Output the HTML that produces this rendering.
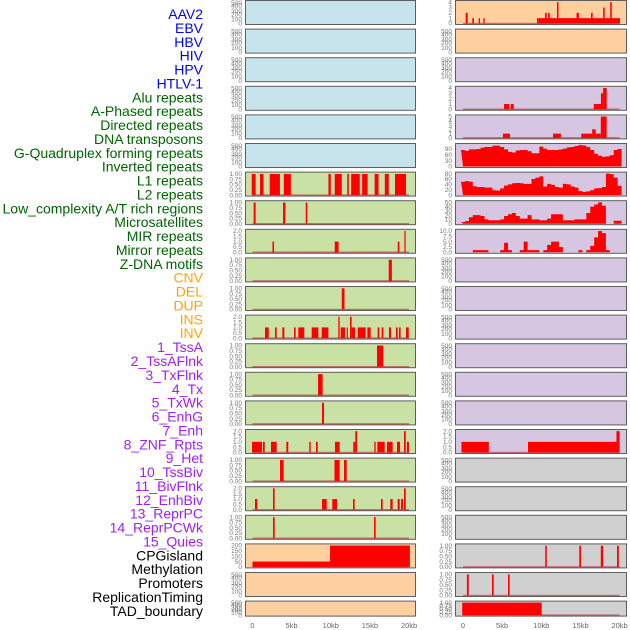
<!DOCTYPE html>
<html><head><meta charset="utf-8"><style>
html,body{margin:0;padding:0;background:#fff;width:630px;height:630px;overflow:hidden}
svg{display:block;font-family:"Liberation Sans",sans-serif}
</style></head><body>
<svg id="c" width="630" height="630" xmlns="http://www.w3.org/2000/svg"></svg>
<script>
// ---- labels ----
const labelsBlue=["AAV2","EBV","HBV","HIV","HPV","HTLV-1"];
const labelsGreen=["Alu repeats","A-Phased repeats","Directed repeats","DNA transposons","G-Quadruplex forming repeats","Inverted repeats","L1 repeats","L2 repeats","Low_complexity A/T rich regions","Microsatellites","MIR repeats","Mirror repeats","Z-DNA motifs"];
const labelsOrange=["CNV","DEL","DUP","INS","INV"];
const labelsPurple=["1_TssA","2_TssAFlnk","3_TxFlnk","4_Tx","5_TxWk","6_EnhG","7_Enh","8_ZNF_Rpts","9_Het","10_TssBiv","11_BivFlnk","12_EnhBiv","13_ReprPC","14_ReprPCWk","15_Quies"];
const labelsBlack=["CPGisland","Methylation","Promoters","ReplicationTiming","TAD_boundary"];
const xTickLabels=["0","5kb","10kb","15kb","20kb"];
const xTickValues=[0,5,10,15,20];

// ---- bar data: [startKb, endKb, value] ----
const barsL6=[[-0.1,0.4,1],[0.96,1.4,1],[2.2,3.5,1],[4.0,4.9,1],[9.7,10.0,1],[10.5,11.4,1],[12.1,12.3,1],[12.6,13.7,1],[14.0,14.7,1],[15.6,16.1,1],[16.9,17.4,1],[18.2,19.6,1]];
const barsL7=[[0.15,0.4,1],[3.9,4.2,1],[6.8,7.0,1]];
const barsL8=[[2.55,2.75,1],[10.5,11.0,1],[18.55,18.75,1],[19.4,19.55,2]];
const barsL9=[[17.4,17.8,1]];
const barsL10=[[11.4,11.75,1]];
const barsL11=[[1.6,2.07,1],[2.88,3.09,1],[3.81,4.07,1],[5.3,5.51,1],[5.85,6.62,1],[7.56,8.41,1],[8.84,9.69,1],[10.96,11.13,2],[11.26,11.81,1],[12.03,12.15,1],[12.45,12.66,2],[12.66,13.09,1],[13.43,14.45,1],[14.67,15.09,1],[15.98,16.2,1],[16.5,16.71,1],[17.43,17.69,1],[18.32,18.54,1],[18.71,18.92,1],[19.6,19.95,1]];
const barsL12=[[15.9,16.7,1]];
const barsL13=[[8.37,8.96,1]];
const barsL14=[[8.88,9.13,1]];
const barsL15=[[-0.06,1.21,1],[1.34,1.56,1],[2.36,3.09,1],[4.32,4.57,1],[7.25,7.43,1],[8.11,8.33,1],[10.54,11.13,1],[12.87,13.13,1],[13.13,13.35,2],[15.56,15.73,1],[15.94,16.88,1],[17.18,17.9,1],[18.45,18.84,1],[19.35,19.57,2],[19.72,19.98,1]];
const barsL16=[[3.51,3.98,1],[10.47,11.13,1],[11.69,12.03,1]];
const barsL17=[[0.32,0.61,1],[2.62,2.83,2],[8.88,9.48,1],[10.19,10.79,1],[12.84,13.05,1],[16.41,16.63,1],[17.6,17.9,1],[18.54,18.8,1],[18.97,19.22,1],[19.35,19.57,2]];
const barsL18=[[2.62,2.83,1],[15.52,15.73,1]];
const barsL19=[[0,9.9,50],[9.9,20.1,200]];
const barsR0=[[0.34,0.6,2],[1.19,1.4,1],[2.0,2.17,1],[2.6,2.77,1],[9.45,9.67,1],[9.67,20.05,1],[10.47,10.69,2],[10.86,11.07,2],[12.0,12.2,4],[14.5,14.8,2],[16.35,16.56,2],[17.9,18.1,3],[18.8,19.0,4]];
const barsR3=[[5.24,5.92,1],[6.09,6.47,1],[16.7,17.62,1],[17.62,17.9,3],[17.9,18.35,4]];
const barsR4=[[5.1,6.0,1],[11.5,12.5,1],[15.1,16.5,1],[16.5,16.95,2],[16.95,17.6,1],[17.6,18.35,5]];
const barsR15=[[-0.2,3.3,1],[8.3,19.6,1],[19.6,20.0,2]];
const barsR19=[[10.5,10.7,1],[14.85,15.07,1],[17.6,17.9,1],[19.67,19.9,1]];
const barsR20=[[0.5,0.73,1],[3.7,3.92,1],[5.75,5.96,1]];
const barsR21=[[-0.1,10.05,1]];

// ---- area data: values at 0,0.5,...,20 kb ----
const areaR5=[85,80,88,88,90,97,100,100,107,107,100,88,75,72,82,85,85,78,68,68,102,92,85,85,85,87,92,98,100,105,110,108,100,85,65,55,50,52,58,85,90];
const areaR6=[50,52,50,33,30,30,28,28,18,17,25,36,40,44,45,44,42,42,60,65,70,32,42,38,30,28,42,40,32,28,15,12,14,18,25,26,30,80,78,65,35];
const areaR7=[4,6,15,20,20,18,10,8,8,8,10,18,22,25,18,12,12,20,10,10,8,8,12,22,22,22,8,8,8,10,10,10,25,40,45,50,42,0,0,7,7];
const areaR8=[0,0,0,1,1,1,1,0,0,0,1,4.5,1,0,0,1,5,1,1,1,0,1,3.5,5,5,2.5,0,0,0,0,1,0,1,3,7,10,9,1,0,0,0];

// ---- y tick sets ----
const ticksEmpty=["0","100","200","300","400","500"];
const ticks01=["0.00","0.25","0.50","0.75","1.00"];
const ticks02=["0.0","0.5","1.0","1.5","2.0"];
const ticks04=["0","1","2","3","4"];
const ticks05=["0","1","2","3","4","5"];

const NS="http://www.w3.org/2000/svg";
const svg=document.getElementById('c');
function el(t,a,p){const e=document.createElementNS(NS,t);for(const k in a)e.setAttribute(k,a[k]);(p||svg).appendChild(e);return e;}

// labels
const groups=[[labelsBlue,"#0000ff"],[labelsGreen,"#006400"],[labelsOrange,"#ffa500"],[labelsPurple,"#a020f0"],[labelsBlack,"#000000"]];
let li=0;
groups.forEach(g=>{g[0].forEach(t=>{
  const e=el('text',{x:203,y:(14+li*13.88+5).toFixed(1),'text-anchor':'end','font-size':'14',fill:g[1]});
  e.textContent=t;
  
  
  li++;});});

const BLUE="#c7e3ec",GREEN="#c9e1a5",PEACH="#ffd09f",LAV="#d6c6e2",GRAY="#d0d0d0";
const colL={x:245,w:171,x0:252.5};
const colR={x:455,w:172,x0:463};
const KB=7.83;

function P(bg,data,type,max,ticks,vals){return {bg,data,type,max,ticks,vals};}
const E=(bg)=>P(bg,null,'empty',500,ticksEmpty,null);
const leftPanels=[E(BLUE),E(BLUE),E(BLUE),E(BLUE),E(BLUE),E(BLUE),
 P(GREEN,barsL6,'bar',1.04,ticks01,[0,.25,.5,.75,1]),
 P(GREEN,barsL7,'bar',1.04,ticks01,[0,.25,.5,.75,1]),
 P(GREEN,barsL8,'bar',2.06,ticks02,[0,.5,1,1.5,2]),
 P(GREEN,barsL9,'bar',1.04,ticks01,[0,.25,.5,.75,1]),
 P(GREEN,barsL10,'bar',1.04,ticks01,[0,.25,.5,.75,1]),
 P(GREEN,barsL11,'bar',2.06,ticks02,[0,.5,1,1.5,2]),
 P(GREEN,barsL12,'bar',1.04,ticks01,[0,.25,.5,.75,1]),
 P(GREEN,barsL13,'bar',1.04,ticks01,[0,.25,.5,.75,1]),
 P(GREEN,barsL14,'bar',1.04,ticks01,[0,.25,.5,.75,1]),
 P(GREEN,barsL15,'bar',2.06,ticks02,[0,.5,1,1.5,2]),
 P(GREEN,barsL16,'bar',1.04,ticks01,[0,.25,.5,.75,1]),
 P(GREEN,barsL17,'bar',2.06,ticks02,[0,.5,1,1.5,2]),
 P(GREEN,barsL18,'bar',1.04,ticks01,[0,.25,.5,.75,1]),
 P(PEACH,barsL19,'bar',206,["0","50","100","150","200"],[0,50,100,150,200]),
 E(PEACH),E(PEACH)];
const rightPanels=[
 P(PEACH,barsR0,'bar',4.12,ticks04,[0,1,2,3,4]),
 E(PEACH),E(LAV),
 P(LAV,barsR3,'bar',4.12,ticks04,[0,1,2,3,4]),
 P(LAV,barsR4,'bar',5.15,ticks05,[0,1,2,3,4,5]),
 P(LAV,areaR5,'area',113,["0","30","60","90"],[0,30,60,90]),
 P(LAV,areaR6,'area',82,["0","20","40","60","80"],[0,20,40,60,80]),
 P(LAV,areaR7,'area',51.5,["0","10","20","30","40","50"],[0,10,20,30,40,50]),
 P(LAV,areaR8,'area',10.3,["0.0","2.5","5.0","7.5","10.0"],[0,2.5,5,7.5,10]),
 E(LAV),E(LAV),E(LAV),E(LAV),E(LAV),E(LAV),
 P(LAV,barsR15,'bar',2.06,ticks02,[0,.5,1,1.5,2]),
 E(GRAY),E(GRAY),E(GRAY),
 P(GRAY,barsR19,'bar',1.04,ticks01,[0,.25,.5,.75,1]),
 P(GRAY,barsR20,'bar',1.04,ticks01,[0,.25,.5,.75,1]),
 P(GRAY,barsR21,'bar',1.04,ticks01,[0,.25,.5,.75,1])];
const emptyFrac=[0,0.2,0.42,0.58,0.8,0.95];

function drawPanel(p,col,i,side){
  const top=i*28.6, h=i<21?25:16;
  const g=el('g',{});
  
  
  el('rect',{x:col.x+0.5,y:top+0.5,width:col.w-1,height:h-1,fill:p.bg,stroke:'#5e5e5e','stroke-width':1},g);
  const y0=top+h-1.5, sc=(h-3)/p.max;
  const X=kb=>col.x0+kb*KB;
  const Y=v=>y0-v*sc;
  p.ticks.forEach((t,k)=>{
    const yy=p.type==='empty'?(y0-emptyFrac[k]*(h-3)):Y(p.vals[k]);
    const e=el('text',{x:col.x-3,y:(yy+2.2).toFixed(1),'text-anchor':'end','font-size':'6.5',fill:'#777'},g);
    e.textContent=t;
  });
  if(p.type==='bar'){
    el('line',{x1:X(0),x2:X(20),y1:y0,y2:y0,stroke:'#b03030','stroke-width':1.5,opacity:0.6},g);
    p.data.forEach(b=>{
      const r=el('rect',{x:X(b[0]).toFixed(2),y:Y(b[2]).toFixed(2),width:Math.max(1.2,X(b[1])-X(b[0])).toFixed(2),height:(y0-Y(b[2])).toFixed(2),fill:'#ff0000'},g);
      
      
    });
  } else if(p.type==='area'){
    let d='M'+X(0)+','+y0;
    p.data.forEach((v,k)=>{const a=X(k*0.5-0.25),b=X(k*0.5+0.25);d+=' L'+a.toFixed(2)+','+Y(v).toFixed(2)+' L'+b.toFixed(2)+','+Y(v).toFixed(2);});
    d+=' L'+X(20.25).toFixed(2)+','+y0+' Z';
    const a=el('path',{d:d,fill:'#ff0000'},g);
    
    
  }
}
leftPanels.forEach((p,i)=>drawPanel(p,colL,i,'left'));
rightPanels.forEach((p,i)=>drawPanel(p,colR,i,'right'));

[colL,colR].forEach((col,ci)=>{
  xTickValues.forEach((v,k)=>{
    const e=el('text',{x:(col.x0+v*KB).toFixed(1),y:628,'text-anchor':'middle','font-size':'7.5',fill:'#666'});
    e.textContent=xTickLabels[k];
    
    
  });
});
</script>
</body></html>
